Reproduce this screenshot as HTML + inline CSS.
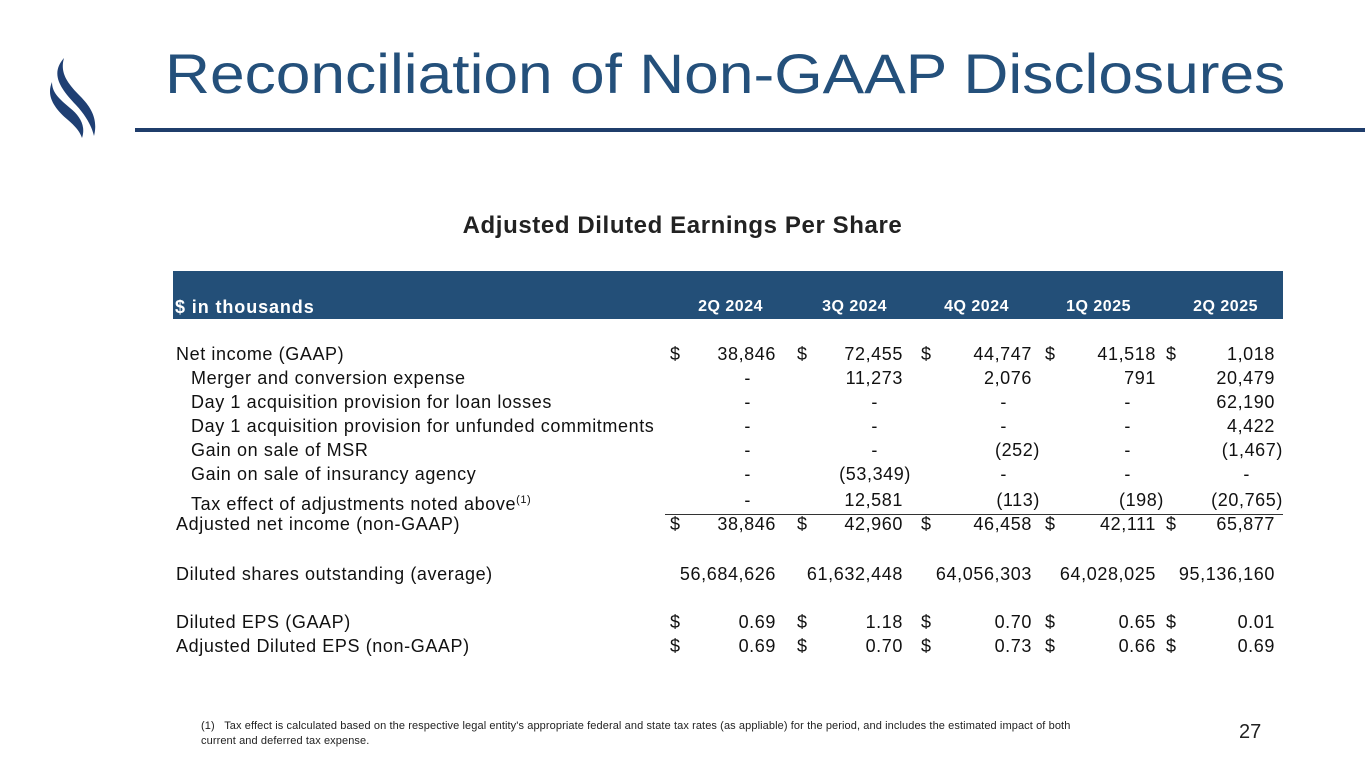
<!DOCTYPE html>
<html><head><meta charset="utf-8">
<style>
body{margin:0;width:1365px;height:768px;background:#fff;position:relative;overflow:hidden;font-family:"Liberation Sans",Arial,sans-serif;color:#111}
.a{position:absolute;white-space:nowrap}
.t{font-size:18px;line-height:20px;letter-spacing:0.6px}
</style></head><body>
<svg class="a" style="left:40px;top:50px" width="70" height="95">
<path d="M24,8 C10,24 20,38 36,55 C48,68 52,78 54,86 C58,70 52,58 40,46 C26,32 20,22 24,8Z" fill="#1f3f73"/>
<path d="M12,32 C6,46 14,58 28,70 C36,77 40,82 42,88 C46,76 40,66 30,58 C18,48 12,42 12,32Z" fill="#1f3f73"/>
</svg>
<div class="a" style="left:165px;top:42px;font-size:56px;color:#24507b;line-height:64px;transform:scaleX(1.112);transform-origin:left top">Reconciliation of Non-GAAP Disclosures</div>
<div class="a" style="left:135px;top:128px;width:1230px;height:4px;background:#1f3d6b"></div>
<div class="a" style="left:0;width:1365px;text-align:center;top:212px;font-size:24px;letter-spacing:0.6px;font-weight:bold;color:#222">Adjusted Diluted Earnings Per Share</div>
<div class="a" style="left:173px;top:271px;width:1110px;height:48px;background:#234f78"></div>
<div id="tbl"></div>
<div class="a" style="left:201px;top:719px;font-size:11px;line-height:15px;letter-spacing:0.1px;color:#222">(1)&nbsp;&nbsp;&nbsp;Tax effect is calculated based on the respective legal entity's appropriate federal and state tax rates (as appliable) for the period, and includes the estimated impact of both<br>current and deferred tax expense.</div>
<div class="a" style="left:1239px;top:721px;font-size:20px;color:#222">27</div>
<script>
const periods=["2Q 2024","3Q 2024","4Q 2024","1Q 2025","2Q 2025"];
const rowLabels=["Net income (GAAP)","Merger and conversion expense","Day 1 acquisition provision for loan losses","Day 1 acquisition provision for unfunded commitments","Gain on sale of MSR","Gain on sale of insurancy agency","Tax effect of adjustments noted above","Adjusted net income (non-GAAP)","Diluted shares outstanding (average)","Diluted EPS (GAAP)","Adjusted Diluted EPS (non-GAAP)"];
const rowValues=[
["38,846","72,455","44,747","41,518","1,018"],
["-","11,273","2,076","791","20,479"],
["-","-","-","-","62,190"],
["-","-","-","-","4,422"],
["-","-","(252)","-","(1,467)"],
["-","(53,349)","-","-","-"],
["-","12,581","(113)","(198)","(20,765)"],
["38,846","42,960","46,458","42,111","65,877"],
["56,684,626","61,632,448","64,056,303","64,028,025","95,136,160"],
["0.69","1.18","0.70","0.65","0.01"],
["0.69","0.70","0.73","0.66","0.69"]];
const rowY=[344,368,392,416,440,464,490,514,564,612,636];
const indent=[0,1,1,1,1,1,1,0,0,0,0];
const dollarRows=[0,7,9,10];
const colRight=[776,903,1032,1156,1275];
const dollarX=[670,797,921,1045,1166];
const hdrRight=[763,887,1009,1131,1258];
const T=document.getElementById('tbl');
function mk(txt,style){const d=document.createElement('div');d.className='a t';d.textContent=txt;d.style.cssText=style;T.appendChild(d);return d;}
let h=mk("$ in thousands","left:175px;top:297px;color:#fff;font-weight:bold;letter-spacing:0.9px");


periods.forEach((p,i)=>{const e=mk(p,"right:"+(1365-hdrRight[i])+"px;top:297px;color:#fff;font-weight:bold;text-align:right;font-size:16px;letter-spacing:0.5px");

});
rowLabels.forEach((l,r)=>{
 const lab=mk(l,"left:"+(indent[r]?191:176)+"px;top:"+rowY[r]+"px");
 
 
 if(r===6){const s=document.createElement('sup');s.textContent='(1)';s.style.fontSize='11px';lab.appendChild(s);}
 rowValues[r].forEach((v,c)=>{
  const paren=v.startsWith('(');const dash=v==='-';
  const rt=colRight[c]+(paren?8:0)-(dash?25:0);
  const e=mk(v,"right:"+(1365-rt)+"px;top:"+rowY[r]+"px;text-align:right");
  
  
  if(dollarRows.includes(r)){const d=mk("$","left:"+dollarX[c]+"px;top:"+rowY[r]+"px");
  
  }
 });
});
const ln=document.createElement('div');ln.className='a';ln.style.cssText="left:665px;top:514px;width:618px;height:1px;background:#333";


T.appendChild(ln);
</script>
</body></html>
